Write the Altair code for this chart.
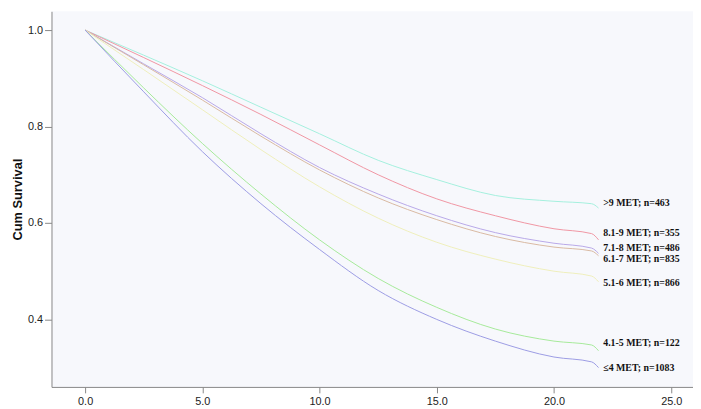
import altair as alt
import pandas as pd

# Follow-up time points (years) at which curves were read
years = [0, 2.5, 5, 7.5, 10, 12.5, 15, 17.5, 20, 21.6, 21.9]

# Cumulative survival per fitness group
surv_gt9 = [1.0, 0.948, 0.895, 0.840, 0.785, 0.730, 0.690, 0.657, 0.645, 0.640, 0.631]
surv_81_9 = [1.0, 0.943, 0.885, 0.825, 0.762, 0.700, 0.650, 0.615, 0.588, 0.578, 0.565]
surv_71_8 = [1.0, 0.930, 0.860, 0.785, 0.715, 0.660, 0.615, 0.580, 0.558, 0.548, 0.537]
surv_61_7 = [1.0, 0.928, 0.855, 0.780, 0.710, 0.652, 0.607, 0.572, 0.550, 0.542, 0.532]
surv_51_6 = [1.0, 0.918, 0.835, 0.752, 0.675, 0.610, 0.560, 0.525, 0.500, 0.490, 0.478]
surv_41_5 = [1.0, 0.880, 0.765, 0.660, 0.565, 0.485, 0.425, 0.380, 0.355, 0.347, 0.335]
surv_le4 = [1.0, 0.872, 0.748, 0.640, 0.545, 0.460, 0.400, 0.355, 0.322, 0.312, 0.300]

groups = [">9 MET", "8.1-9 MET", "7.1-8 MET", "6.1-7 MET", "5.1-6 MET", "4.1-5 MET", "≤4 MET"]
series = [surv_gt9, surv_81_9, surv_71_8, surv_61_7, surv_51_6, surv_41_5, surv_le4]
colors = ["#a4f0de", "#f096a3", "#b8a8e8", "#d9b9a2", "#efefbb", "#a6ea9a", "#9c9ce4"]

label_texts = [">9 MET; n=463", "8.1-9 MET; n=355", "7.1-8 MET; n=486", "6.1-7 MET; n=835",
               "5.1-6 MET; n=866", "4.1-5 MET; n=122", "≤4 MET; n=1083"]
label_y = [0.641, 0.580, 0.549, 0.526, 0.475, 0.350, 0.299]
label_x = [22.1] * 7

x_ticks = [0, 5, 10, 15, 20, 25]
y_ticks = [0.4, 0.6, 0.8, 1.0]

rows = []
for g, s in zip(groups, series):
    for t, v in zip(years, s):
        rows.append({"group": g, "t": t, "s": v})
df = pd.DataFrame(rows)
lab = pd.DataFrame({"group": groups, "text": label_texts, "t": label_x, "s": label_y})

xs = alt.Scale(domain=[-1.435, 25.93], nice=False, zero=False)
ys = alt.Scale(domain=[0.26, 1.039], nice=False, zero=False)

lines = alt.Chart(df).mark_line(strokeWidth=1, interpolate="monotone").encode(
    x=alt.X("t:Q", scale=xs, axis=alt.Axis(values=x_ticks, format=".1f", title=None,
                                          grid=False, tickSize=6, labelPadding=3)),
    y=alt.Y("s:Q", scale=ys, axis=alt.Axis(values=y_ticks, format=".1f", title="Cum Survival",
                                          grid=False, tickSize=7, labelPadding=2,
                                          titleX=-34, titleY=190, titleAngle=-90,
                                          titleAlign="center", titleBaseline="middle")),
    color=alt.Color("group:N", scale=alt.Scale(domain=groups, range=colors), legend=None),
    detail="group:N",
)

labels = alt.Chart(lab).mark_text(align="left", baseline="middle", font="Liberation Serif",
                                  fontWeight="bold", fontSize=10, color="#111").encode(
    x=alt.X("t:Q", scale=xs),
    y=alt.Y("s:Q", scale=ys),
    text="text:N",
)

chart = alt.layer(lines, labels).properties(
    width=649, height=380,
    autosize=alt.AutoSizeParams(type="none"),
    padding={"left": 44, "top": 1, "right": 0, "bottom": 20},
    background="white",
).configure_view(
    fill="#f7f8fc", stroke=None
).configure_axis(
    domainColor="#888888", tickColor="#888888", labelColor="#222222",
    labelFont="Liberation Sans", labelFontSize=11,
    titleFont="Liberation Sans", titleFontSize=13, titleFontWeight="bold", titleColor="#111111",
)

chart.save("out.html", embed_options={"renderer": "svg", "actions": False})
